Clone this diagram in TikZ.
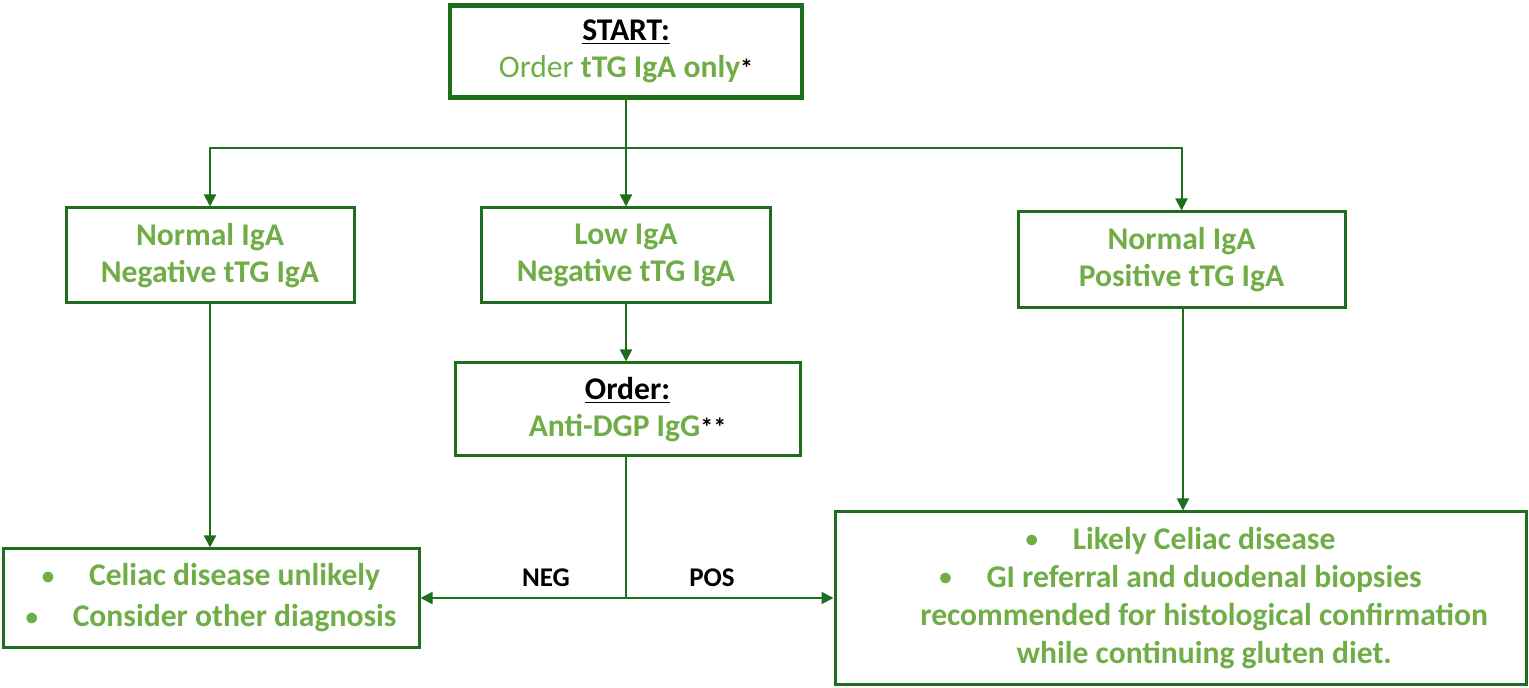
\documentclass[tikz,border=0pt]{standalone}
\usepackage{fontspec}
\setmainfont{Carlito}
\usetikzlibrary{arrows.meta}
\definecolor{lgreen}{RGB}{112,173,71}
\definecolor{dgreen}{RGB}{30,110,30}
\newcommand{\bul}{\raisebox{0.8pt}{\fontsize{12.5}{12}\selectfont\textbullet}}
\newcommand{\myast}[1]{\textcolor{black}{\fontsize{13}{12}\selectfont #1}}
\begin{document}
\begin{tikzpicture}[x=0.5pt,y=-0.5pt,
  box/.style={draw=dgreen,line width=1.5pt,rectangle,inner sep=0pt,align=center,
     font=\fontsize{15.8}{18.5}\selectfont\bfseries,text=lgreen},
  conn/.style={draw=dgreen,line width=1pt},
  arr/.style={conn,-{Triangle[length=6pt,width=6pt]}},
  lbl/.style={font=\fontsize{13.5}{16}\selectfont\bfseries,text=black}]
\useasboundingbox (0,0) rectangle (1529,688);
\node[box,line width=2.2pt,minimum width=176pt,minimum height=46pt] (start) at (626,51.5)
  {\textcolor{black}{\underline{START:}}\\{\mdseries Order} tTG IgA only\myast{*}};
\node[box,minimum width=144pt,minimum height=47.5pt] (nn) at (210,255.5) {Normal IgA\\Negative tTG IgA};
\node[box,minimum width=144.5pt,minimum height=47.5pt] (ln) at (626,255.5) {Low IgA\\Negative tTG IgA};
\node[box,minimum width=163.5pt,minimum height=48pt] (np) at (1181.5,260) {Normal IgA\\Positive tTG IgA};
\node[box,minimum width=172.5pt,minimum height=46.5pt] (ord) at (627.5,409.5)
  {\textcolor{black}{\underline{Order:}}\\Anti-DGP IgG\myast{**}};
\node[box,minimum width=208pt,minimum height=49pt] (unl) at (211,598)
  {\bul\hspace{1.1em}Celiac disease unlikely\\[2pt]\bul\hspace{1.1em}Consider other diagnosis};
\node[box,minimum width=345.5pt,minimum height=86pt,font=\fontsize{15.8}{19}\selectfont\bfseries] (lik) at (1180.5,598)
  {\bul\hspace{1.1em}Likely Celiac disease\\
   \bul\hspace{1.1em}GI referral and duodenal biopsies\\
   \hspace{1.5em}recommended for histological confirmation\\
   \hspace{1.5em}while continuing gluten diet.};
\coordinate (split) at (626,148);
\coordinate (bend) at (626,598);
\draw[conn] (start.south) -- (split);
\draw[arr] (split) -| (nn.north);
\draw[arr] (split) -- (ln.north);
\draw[arr] (split) -| (np.north);
\draw[arr] (ln.south) -- (ord.north -| ln.south);
\draw[arr] (nn.south) -- (unl.north -| nn.south);
\draw[arr] (np.south -| 1183,0) -- (lik.north -| 1183,0);
\draw[conn] (ord.south -| bend) -- (bend);
\draw[arr] (bend) -- (unl.east);
\draw[arr] (bend) -- (lik.west);
\node[lbl] (neg) at (546,578) {NEG};
\node[lbl] (pos) at (712,578) {POS};
\end{tikzpicture}
\end{document}
